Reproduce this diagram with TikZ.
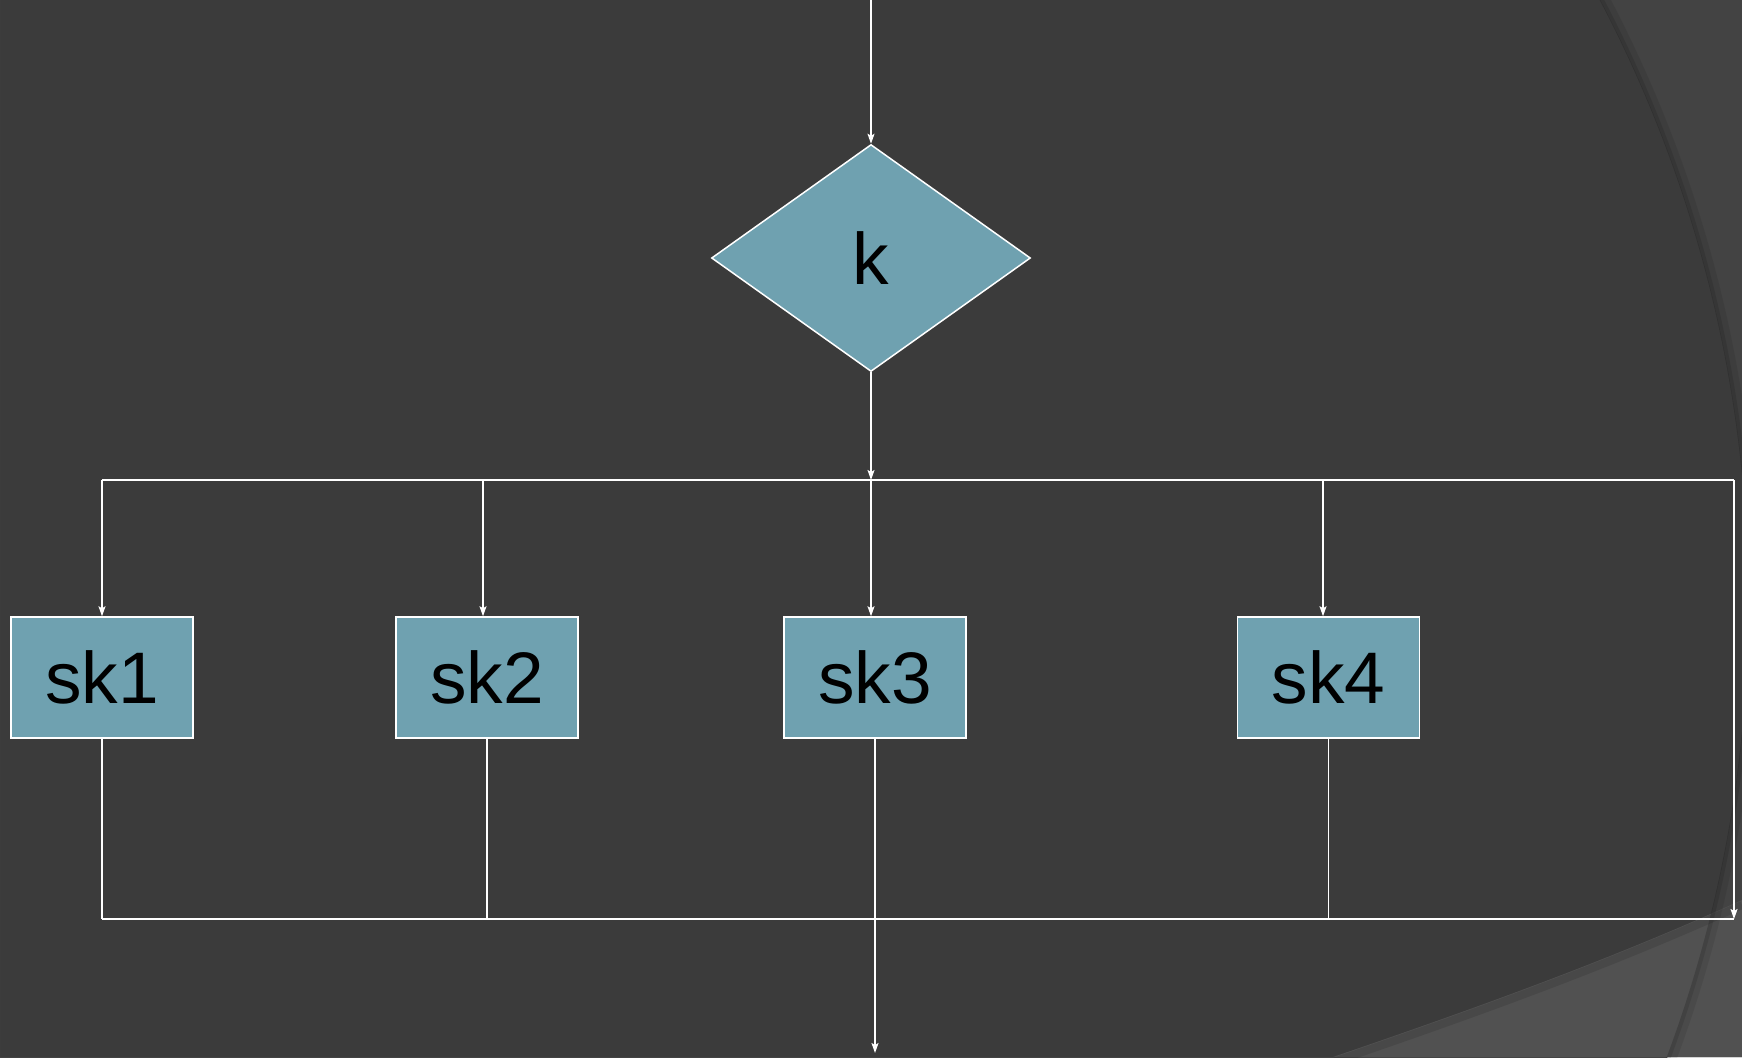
\documentclass[tikz,border=0pt]{standalone}
\usepackage{fontspec}
\setmainfont{Liberation Sans}
\usetikzlibrary{shapes.geometric,arrows.meta}
\definecolor{bgdark}{HTML}{3B3B3B}
\definecolor{bglight}{HTML}{434343}
\definecolor{bgbottom}{HTML}{515151}
\definecolor{boxfill}{RGB}{111,161,176}
\tikzset{
  wire/.style={white,line width=1.5pt},
  arr/.style={wire,-{Stealth[length=10pt,width=7pt,inset=2pt]}},
  box/.style={draw=white,line width=1.5pt,fill=boxfill,minimum width=182pt,minimum height=121pt,inner sep=0pt,font=\fontsize{73}{76}\selectfont,text=black},
  dia/.style={diamond,draw=white,line width=1.5pt,fill=boxfill,minimum width=319pt,minimum height=227pt,inner sep=0pt,font=\fontsize{73}{76}\selectfont,text=black}
}
\begin{document}
\begin{tikzpicture}[x=1pt,y=-1pt]
\useasboundingbox (0,0) rectangle (1742,1057);
\fill[bgdark] (0,0) rectangle (1742,1057);
\begin{scope}
  \clip (0,0) rectangle (1742,1057);
  \fill[bglight,even odd rule] (0,0) rectangle (1742,1057) (451.3,603.4) circle[radius=1297.6];
  \fill[bgbottom] (1333,1057) .. controls (1500,1000) and (1620,955) .. (1742,900) -- (1742,1057) -- cycle;
  \draw[black,opacity=0.08,line width=10pt] (451.3,603.4) circle[radius=1302];
  \draw[black,opacity=0.1,line width=4pt] (451.3,603.4) circle[radius=1299];
  \draw[black,opacity=0.1,line width=8pt] (1333,1062) .. controls (1500,1005) and (1620,960) .. (1742,905);
\end{scope}

\node[dia] (k) at (871,258) {k};
\node[box] (sk1) at (102,677.5) {sk1};
\node[box] (sk2) at (487,677.5) {sk2};
\node[box] (sk3) at (875,677.5) {sk3};
\node[box] (sk4) at (1328.5,677.5) {sk4};

\coordinate (ttop) at (871,0);
\coordinate (b1) at (102,480);
\coordinate (b2) at (483,480);
\coordinate (b3) at (871,480);
\coordinate (b4) at (1323,480);
\coordinate (bR) at (1734,480);
\coordinate (c1) at (102,919);
\coordinate (cR) at (1734,919);
\coordinate (out) at (875,1053);

\draw[arr] (ttop) -- (k.north);
\draw[arr] (k.south) -- (b3);
\draw[wire] (b1) -- (bR);
\draw[arr] (b1) -- (b1 |- sk1.north);
\draw[arr] (b2) -- (b2 |- sk2.north);
\draw[arr] (b3) -- (b3 |- sk3.north);
\draw[arr] (b4) -- (b4 |- sk4.north);
\draw[arr] (bR) -- (cR);
\draw[wire] (sk1.south) -- (sk1.south |- c1);
\draw[wire] (sk2.south) -- (sk2.south |- c1);
\draw[wire] (sk3.south) -- (sk3.south |- c1);
\draw[wire] (sk4.south) -- (sk4.south |- c1);
\draw[wire] (c1) -- (cR);
\draw[arr] (sk3.south |- c1) -- (out);
\end{tikzpicture}
\end{document}
